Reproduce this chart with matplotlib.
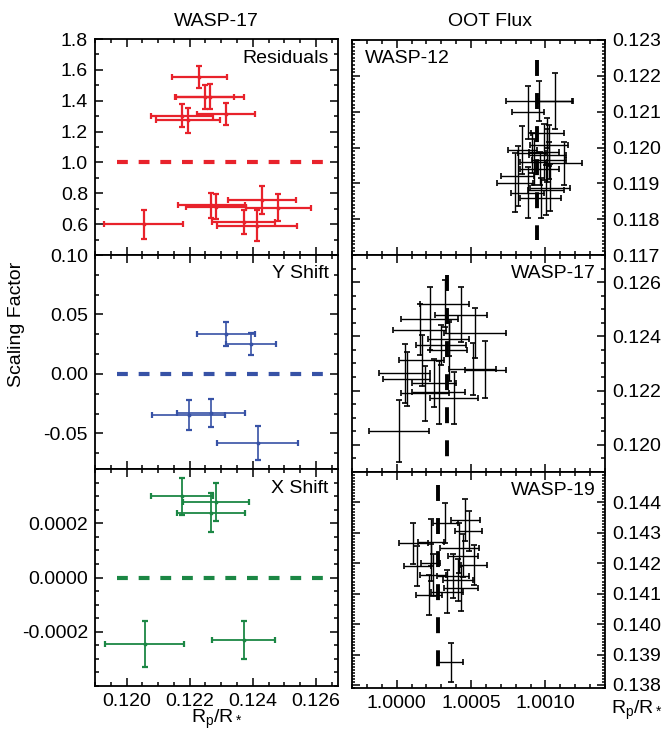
import matplotlib
matplotlib.use('Agg')
import matplotlib.pyplot as plt
from matplotlib.ticker import MultipleLocator, FixedLocator, FormatStrFormatter

plt.rcParams['font.family'] = ['Liberation Sans', 'DejaVu Sans']
plt.rcParams['axes.unicode_minus'] = False
plt.rcParams['mathtext.fontset'] = 'custom'
plt.rcParams['mathtext.rm'] = 'Liberation Sans'
plt.rcParams['mathtext.it'] = 'Liberation Sans'
plt.rcParams['mathtext.sf'] = 'Liberation Sans'

# ---------------- data: WASP-17 scaling factors (left column) ----------------
res_rp = [0.12231, 0.12248, 0.12263, 0.12176, 0.12194, 0.12316,
          0.12055, 0.12268, 0.12282, 0.12428, 0.12481, 0.12371, 0.12413]
res_rp_err = [0.00088, 0.00092, 0.00108, 0.00099, 0.00102, 0.00092,
              0.00125, 0.00106, 0.00095, 0.00108, 0.00104, 0.00100, 0.00128]
res_val = [1.554, 1.424, 1.426, 1.304, 1.272, 1.315,
           0.598, 0.722, 0.713, 0.757, 0.707, 0.615, 0.591]
res_val_err = [0.070, 0.075, 0.080, 0.076, 0.083, 0.070,
               0.094, 0.083, 0.080, 0.090, 0.087, 0.076, 0.098]

ysh_rp = [0.12316, 0.12394, 0.12197, 0.12267, 0.12415]
ysh_rp_err = [0.00092, 0.00079, 0.00115, 0.00108, 0.00128]
ysh_val = [0.0334, 0.0251, -0.0345, -0.0331, -0.0579]
ysh_val_err = [0.0100, 0.0090, 0.0125, 0.0117, 0.0143]

xsh_rp = [0.12176, 0.12267, 0.12284, 0.12057, 0.12371]
xsh_rp_err = [0.00097, 0.00107, 0.00105, 0.00126, 0.00100]
xsh_val = [0.000300, 0.000239, 0.000278, -0.000245, -0.000229]
xsh_val_err = [0.000068, 0.000073, 0.000071, 0.000085, 0.000070]

ref_levels = [1.0, 0.0, 0.0]
ref_span = (0.1197, 0.1263)

# ---------------- data: OOT flux vs Rp/R* (right column) ----------------
w12_flux = [1.000958, 1.000885, 1.001067, 1.001013, 1.001024, 1.000845, 1.000911,
            1.001013, 1.001024, 1.001122, 1.000960, 1.000813, 1.000795, 1.001029,
            1.001004, 1.000882, 1.000967, 1.000922, 1.000989]
w12_flux_err = [0.00022, 0.000107, 0.000116, 0.000113, 0.000129, 0.000100, 0.000093,
                0.000122, 0.000116, 0.000122, 0.000129, 0.000109, 0.000122, 0.000133,
                0.000122, 0.000111, 0.000138, 0.000090, 0.000100]
w12_rp = [0.121306, 0.120981, 0.121306, 0.120407, 0.120056, 0.119917, 0.119853,
          0.119778, 0.119639, 0.119565, 0.119407, 0.119204, 0.119019, 0.118880,
          0.118806, 0.118741, 0.118602, 0.119593, 0.119870]
w12_rp_err = [0.00056, 0.00074, 0.00078, 0.00042, 0.00056, 0.00067, 0.00056,
              0.00074, 0.00051, 0.00060, 0.00046, 0.00083, 0.00083, 0.00065,
              0.00070, 0.00072, 0.00056, 0.00065, 0.00079]

w17_flux = [1.0000156, 1.000433, 1.000222, 1.000322, 1.000527, 1.000156, 1.000349,
            1.0000556, 1.000167, 1.000596, 1.000511, 1.0000667, 1.000251, 1.000193,
            1.000384, 1.000282, 1.000349, 1.000300]
w17_flux_err = [0.000200, 0.000173, 0.000193, 0.000167, 0.000211, 0.000178, 0.000138,
                0.000171, 0.000151, 0.000138, 0.000156, 0.000156, 0.000151, 0.000162,
                0.000160, 0.000178, 0.000122, 0.000167]
w17_rp = [0.120506, 0.124803, 0.124654, 0.125210, 0.124123, 0.124247, 0.123914,
          0.122642, 0.123111, 0.122765, 0.122790, 0.122432, 0.122272, 0.121901,
          0.121716, 0.121938, 0.123481, 0.123667]
w17_rp_err = [0.00114, 0.00101, 0.00117, 0.00086, 0.00093, 0.00093, 0.00062,
              0.00109, 0.00093, 0.00105, 0.00095, 0.00099, 0.00089, 0.00102,
              0.00096, 0.00117, 0.00111, 0.00074]

w19_flux = [1.000362, 1.000462, 1.000484, 1.000327, 1.000113, 1.000229, 1.000140,
            1.000229, 1.000422, 1.000447, 1.000520, 1.000378, 1.000433, 1.000218,
            1.000338, 1.000411, 1.000244]
w19_flux_err = [0.0000867, 0.000100, 0.0000922, 0.0000833, 0.000098, 0.000086, 0.0000911,
                0.000064, 0.000133, 0.000102, 0.0000867, 0.000106, 0.000113, 0.0000889,
                0.000110, 0.000100, 0.000090]
w19_rp = [0.138743, 0.143422, 0.143060, 0.143313, 0.142655, 0.142688, 0.141910,
          0.142019, 0.142491, 0.142250, 0.141943, 0.141581, 0.141176, 0.140957,
          0.141066, 0.141450, 0.141614]
w19_rp_err = [0.00063, 0.00068, 0.00066, 0.00066, 0.00067, 0.00077, 0.00067,
              0.00060, 0.00082, 0.00070, 0.00066, 0.00071, 0.00074, 0.00066,
              0.00071, 0.00068, 0.00070]

mean_flux = [1.000945, 1.000338, 1.000278]
mean_flux_span = [(0.12244, 0.11742), (0.12626, 0.11952), (0.14457, 0.13859)]

right_yticks = [
    [0.117, 0.118, 0.119, 0.120, 0.121, 0.122, 0.123],
    [0.120, 0.122, 0.124, 0.126],
    [0.138, 0.139, 0.140, 0.141, 0.142, 0.143, 0.144],
]

# ---------------- figure ----------------
fig = plt.figure(figsize=(6.65, 7.32), dpi=100)

FS = 14
left_x0, left_w = 95 / 665, 243 / 665
right_x0, right_w = 352 / 665, 253 / 665
H = 732.0

def box(top, bot):
    return (1 - bot / H, (bot - top) / H)

def style(ax):
    for s in ax.spines.values():
        s.set_linewidth(1.3)
    ax.tick_params(which='both', direction='in', top=True, bottom=True,
                   left=True, right=True, width=1.1, labelsize=FS)
    ax.tick_params(which='major', length=6)
    ax.tick_params(which='minor', length=3)

lb = [box(39, 255), box(255, 469), box(469, 686)]
axL = [fig.add_axes([left_x0, b, left_w, h]) for b, h in lb]
rb = [box(40, 255), box(255, 472), box(472, 688)]
axR = [fig.add_axes([right_x0, b, right_w, h]) for b, h in rb]

colors = ['#e8222b', '#3752a6', '#1b8744']
left_sets = [
    (res_rp, res_rp_err, res_val, res_val_err),
    (ysh_rp, ysh_rp_err, ysh_val, ysh_val_err),
    (xsh_rp, xsh_rp_err, xsh_val, xsh_val_err),
]
left_labels = ['Residuals', 'Y Shift', 'X Shift']
left_ylims = [(0.4, 1.8), (-0.08, 0.10), (-0.0004, 0.0004)]
left_ylw = [1.6, 1.2, 1.3]

for i, ax in enumerate(axL):
    x, xe, y, ye = left_sets[i]
    ax.errorbar(x, y, xerr=xe, yerr=ye, fmt='o', ms=1.8, color=colors[i],
                ecolor=colors[i], elinewidth=left_ylw[i], capsize=2.5, capthick=1.6)
    ax.plot(ref_span, [ref_levels[i]] * 2, color=colors[i], lw=3.0,
            dashes=(2.6, 2.6))
    ax.set_xlim(0.1190, 0.1267)
    ax.set_ylim(*left_ylims[i])
    ax.xaxis.set_major_locator(FixedLocator([0.120, 0.122, 0.124, 0.126]))
    ax.xaxis.set_minor_locator(MultipleLocator(0.0005))
    ax.xaxis.set_major_formatter(FormatStrFormatter('%.3f'))
    style(ax)
    if i < 2:
        ax.tick_params(labelbottom=False)
    ax.text(0.962, 0.912, left_labels[i], transform=ax.transAxes, ha='right',
            va='center', fontsize=FS)

axL[0].yaxis.set_major_locator(FixedLocator([0.6, 0.8, 1.0, 1.2, 1.4, 1.6, 1.8]))
axL[0].yaxis.set_minor_locator(MultipleLocator(0.1))
axL[0].yaxis.set_major_formatter(FormatStrFormatter('%.1f'))
axL[1].yaxis.set_major_locator(FixedLocator([-0.05, 0.0, 0.05, 0.10]))
axL[1].yaxis.set_minor_locator(MultipleLocator(0.05 / 3))
axL[1].yaxis.set_major_formatter(FormatStrFormatter('%.2f'))
axL[2].yaxis.set_major_locator(FixedLocator([-0.0002, 0.0, 0.0002]))
axL[2].yaxis.set_minor_locator(MultipleLocator(0.00005))
axL[2].yaxis.set_major_formatter(FormatStrFormatter('%.4f'))
for ax in axL:
    ax.tick_params(axis='y', pad=5)
axL[2].tick_params(axis='x', pad=5)

right_sets = [
    (w12_flux, w12_flux_err, w12_rp, w12_rp_err),
    (w17_flux, w17_flux_err, w17_rp, w17_rp_err),
    (w19_flux, w19_flux_err, w19_rp, w19_rp_err),
]
right_ylims = [(0.117, 0.123), (0.119, 0.127), (0.1379, 0.1450)]
right_minor = [0.0001, 0.0005, 0.0001]
right_labels = ['WASP-12', 'WASP-17', 'WASP-19']

for i, ax in enumerate(axR):
    x, xe, y, ye = right_sets[i]
    ax.errorbar(x, y, xerr=xe, yerr=ye, fmt='none', ecolor='black',
                elinewidth=1.0, capsize=2.0, capthick=1.2)
    ax.plot([mean_flux[i]] * 2, mean_flux_span[i], color='black', lw=2.8,
            dashes=(4.1, 4.4), solid_capstyle='butt', dash_capstyle='butt')
    ax.set_xlim(0.9997, 1.0014)
    ax.set_ylim(*right_ylims[i])
    ax.xaxis.set_major_locator(FixedLocator([1.0000, 1.0005, 1.0010]))
    ax.xaxis.set_minor_locator(MultipleLocator(0.0001))
    ax.xaxis.set_major_formatter(FormatStrFormatter('%.4f'))
    ax.yaxis.set_major_locator(FixedLocator(right_yticks[i]))
    ax.yaxis.set_minor_locator(MultipleLocator(right_minor[i]))
    ax.yaxis.set_major_formatter(FormatStrFormatter('%.3f'))
    style(ax)
    ax.tick_params(axis='y', labelleft=False, labelright=True, pad=5)
    if right_minor[i] < 0.0005:
        ax.tick_params(axis='y', which='minor', length=2)
    if i < 2:
        ax.tick_params(labelbottom=False)
    if i == 0:
        ax.text(0.051, 0.916, right_labels[i], transform=ax.transAxes, ha='left',
                va='center', fontsize=FS)
    else:
        ax.text(0.965, 0.914, right_labels[i], transform=ax.transAxes, ha='right',
                va='center', fontsize=FS)
axR[2].tick_params(axis='x', pad=5)

fig.text(216.5 / 665, 1 - 21 / H, 'WASP-17', ha='center', va='center', fontsize=FS)
fig.text(490 / 665, 1 - 21 / H, 'OOT Flux', ha='center', va='center', fontsize=FS)
fig.text(17 / 665, 1 - 324 / H, 'Scaling Factor', rotation=90, ha='center',
         va='center', fontsize=FS)
fig.text(216.5 / 665, 1 - 719 / H, r'R$_p$/R$_*$', ha='center', va='center', fontsize=FS)
fig.text(637 / 665, 1 - 710 / H, r'R$_p$/R$_*$', ha='center', va='center', fontsize=FS)

fig.savefig('out.png', dpi=100)
